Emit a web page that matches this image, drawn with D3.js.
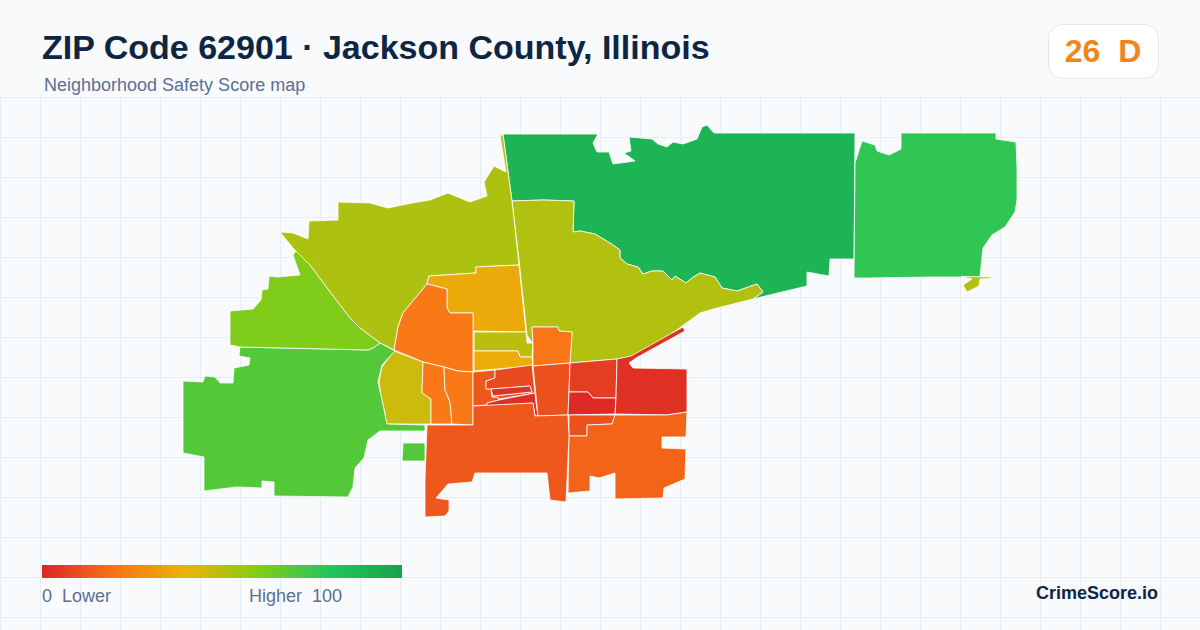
<!DOCTYPE html>
<html>
<head>
<meta charset="utf-8">
<script src="https://cdn.jsdelivr.net/npm/d3@7"></script>
<style>
  html, body { margin: 0; padding: 0; background: #f8fafc; }
  svg { display: block; }
  text { font-family: "Liberation Sans", Arial, sans-serif; white-space: pre; }
</style>
</head>
<body>
<svg id="chart" width="1200" height="630"></svg>
<script>
// score colour ramp
const rampStops = [0, 20, 40, 60, 80, 100];
const rampColors = ["#dc2626", "#f97316", "#eab308", "#84cc16", "#22c55e", "#16a34a"];

const titleText = "ZIP Code 62901 · Jackson County, Illinois";
const subtitleText = "Neighborhood Safety Score map";
const badgeText = "26  D";
const legendLow = "0  Lower";
const legendHigh = "Higher  100";
const brandText = "CrimeScore.io";

// census tracts, outlines in map units
const tractNames = ["ne", "e", "eBit", "olE", "olW", "amber", "orW", "olS", "amS", "orN", "tan", "st1", "st2",
  "l1", "l2", "red1", "red2", "mid", "nr", "rd", "er", "sm", "se", "so", "sw", "swBit", "lime"];
const tractScores = [90, 77, 51, 51, 52, 37, 22, 49, 38, 21, 46, 22, 22,
  13, 9, 3, 2, 11, 6, 1, 3, 11, 16, 13, 70, 70, 61];

const ne = [[503,134],[598,134],[593,143],[597,152],[609,152],[613,164],[635,161],[624,153],[631,151],[629,137],[652,139],[658,144],[667,147],[673,142],[683,144],[697,139],[702,127],[707,125],[714,133],[855,133],[854,259],[830,259],[829,276],[807,272],[807,286],[753,299],[763,292],[757,284],[737,291],[722,288],[715,277],[700,273],[692,278],[686,283],[675,276],[672,280],[663,271],[652,271],[643,274],[638,267],[627,264],[620,258],[620,250],[610,243],[595,234],[580,231],[573,232],[574,201],[543,200],[512,201]];
const e = [[862,141],[875,145],[877,151],[889,155],[901,149],[901,133],[996,133],[996,139],[1016,142],[1017,167],[1017,200],[1015,212],[1005,227],[992,235],[983,248],[980,277],[932,277],[867,278],[854,278],[855,163]];
const eBit = [[961,276.5],[991,277],[991,278.5],[980,279],[979,286],[967,292],[963,285],[972,279]];
const olE = [[512,201],[543,200],[574,201],[573,232],[580,231],[595,234],[610,243],[620,250],[620,258],[627,264],[638,267],[643,274],[652,271],[663,271],[672,280],[675,276],[686,283],[692,278],[700,273],[715,277],[722,288],[737,291],[757,284],[763,292],[753,299],[717,308],[700,313],[663,340],[637,355],[618,359],[570,363],[572,332],[559,331],[558,327],[532,327],[533,344],[527,335],[519,260]];
const olW = [[280,232],[293,233],[308,239],[309,221],[338,220],[338,202],[370,203],[388,208],[412,203],[430,200],[448,193],[470,202],[487,196],[484,182],[494,166],[506,172],[500,135],[503,135],[512,201],[519,265],[476,267],[476,273],[429,276],[427,284],[403,313],[398,327],[394,350],[380,343],[360,328],[350,318],[330,292],[310,265],[293,248]];
const amber = [[429,276],[476,273],[476,267],[519,265],[526,332],[473,331],[473,313],[450,313],[447,308],[447,289],[427,284]];
const orW = [[427,284],[447,289],[447,308],[450,313],[473,313],[473,372],[458,371],[444,367],[423,362],[394,350],[398,327],[403,313]];
const olS = [[474,332],[526,332],[527,343],[533,343],[532,357],[520,357],[518,351],[474,351]];
const amS = [[474,351],[518,351],[520,357],[532,357],[533,366],[474,371]];
const orN = [[532,327],[558,327],[559,331],[572,332],[570,363],[533,366],[533,344]];
const tan = [[394,351],[423,362],[422,393],[431,399],[431,424],[386,424],[385,413],[382,402],[379,382],[382,367]];
const st1 = [[423,362],[444,367],[445,390],[450,402],[452,424],[431,424],[431,399],[422,393]];
const st2 = [[444,367],[458,371],[473,372],[473,425],[452,424],[450,402],[445,390]];
const l1 = [[473,372],[495,370],[495,378],[486,381],[486,389],[491,389],[492,397],[498,397],[499,400],[487,403],[487,405],[473,406]];
const l2 = [[495,370],[532,365],[535,393],[499,399],[498,397],[492,397],[493,396],[532,392],[530,386],[491,389],[486,389],[486,381],[495,378]];
const red1 = [[491,389],[530,386],[532,392],[493,396]];
const red2 = [[499,400],[535,393],[536,403],[538,416],[535,416],[533,403],[487,406],[487,403]];
const mid = [[533,366],[570,363],[569,392],[568,415],[538,416]];
const nr = [[570,363],[617,359],[616,398],[593,398],[588,392],[569,392]];
const rd = [[569,392],[588,392],[593,398],[616,398],[615,414],[568,415]];
const er = [[617,359],[631,356],[683,327],[685,331],[636,358],[629,363],[633,368],[687,369],[687,412],[667,415],[615,414],[616,398]];
const sm = [[569,415],[615,415],[612,424],[587,425],[587,436],[569,436]];
const se = [[615,415],[667,415],[687,412],[686,437],[662,437],[662,448],[686,449],[685,479],[664,488],[663,498],[615,499],[615,473],[599,478],[590,476],[590,491],[568,493],[569,436],[587,436],[587,425],[612,424]];
const so = [[427,425],[473,425],[473,406],[533,403],[535,416],[568,415],[569,436],[566,502],[550,500],[547,473],[493,473],[475,473],[472,482],[448,484],[436,498],[449,500],[449,511],[445,516],[425,517],[425,480]];
const sw = [[240,347],[368,350],[373,348],[380,343],[395,351],[382,365],[378,382],[382,400],[387,424],[425,425],[425,431],[380,431],[368,440],[364,458],[355,468],[353,487],[348,497],[274,496],[274,482],[262,481],[262,488],[237,487],[204,491],[204,457],[183,453],[183,381],[203,382],[205,376],[215,377],[220,383],[233,383],[234,368],[249,365],[250,358],[239,356]];
const swBit = [[403,443],[425,443],[425,461],[402,461]];
const lime = [[230,311],[253,309],[261,300],[262,290],[268,289],[269,276],[277,277],[300,275],[293,255],[296,251],[310,265],[330,292],[350,318],[360,328],[380,343],[373,348],[368,350],[240,347],[230,345]];

const tractShapes = [ne, e, eBit, olE, olW, amber, orW, olS, amS, orN, tan, st1, st2,
  l1, l2, red1, red2, mid, nr, rd, er, sm, se, so, sw, swBit, lime];

const svg = d3.select("#chart");
const width = 1200, height = 630;

const color = d3.scaleLinear().domain(rampStops).range(rampColors);

// background grid
const gridX = d3.range(0, width + 1, 40);
const gridY = d3.range(97, height, 40);
const grid = svg.append("g").attr("stroke", "#e6eef3").attr("stroke-width", 1);
gridX.forEach(x => grid.append("line").attr("x1", x + 0.5).attr("x2", x + 0.5).attr("y1", 97).attr("y2", height));
gridY.forEach(y => grid.append("line").attr("x1", 0).attr("x2", width).attr("y1", y + 0.5).attr("y2", y + 0.5));

// map
const xMap = d3.scaleLinear().domain([180, 1020]).range([180, 1020]);
const yMap = d3.scaleLinear().domain([125, 517]).range([125, 517]);
const outline = d3.line().x(d => xMap(d[0])).y(d => yMap(d[1])).curve(d3.curveLinearClosed);

svg.append("g").selectAll("path")
  .data(tractNames.map((name, i) => ({ name, score: tractScores[i], shape: tractShapes[i] })))
  .join("path")
  .attr("d", d => outline(d.shape))
  .attr("fill", d => color(d.score))
  .attr("stroke", "#ffffff")
  .attr("stroke-width", 0.8)
  .attr("stroke-linejoin", "round");

// header
svg.append("text").attr("x", 42).attr("y", 59)
  .attr("font-size", 34).attr("font-weight", 700).attr("fill", "#0f2544").text(titleText);
svg.append("text").attr("x", 44).attr("y", 91)
  .attr("font-size", 18).attr("fill", "#5b7090").text(subtitleText);

// score badge
svg.append("rect").attr("x", 1048.5).attr("y", 24.5).attr("width", 110).attr("height", 54).attr("rx", 14)
  .attr("fill", "#ffffff").attr("stroke", "#e2e8f0");
svg.append("text").attr("x", 1103).attr("y", 62).attr("text-anchor", "middle")
  .attr("font-size", 32).attr("font-weight", 700).attr("fill", "#f0851a").text(badgeText);

// legend
const legendScale = d3.scaleLinear().domain([0, 100]).range([42, 402]);
const grad = svg.append("defs").append("linearGradient").attr("id", "ramp");
grad.selectAll("stop").data(rampStops).join("stop")
  .attr("offset", d => d + "%")
  .attr("stop-color", d => color(d));
svg.append("rect").attr("x", legendScale(0)).attr("y", 565)
  .attr("width", legendScale(100) - legendScale(0)).attr("height", 13).attr("fill", "url(#ramp)");
svg.append("text").attr("x", 42).attr("y", 602).attr("font-size", 18).attr("fill", "#5b7090").text(legendLow);
svg.append("text").attr("x", 249).attr("y", 602).attr("font-size", 18).attr("fill", "#5b7090").text(legendHigh);

svg.append("text").attr("x", 1158).attr("y", 599).attr("text-anchor", "end")
  .attr("font-size", 18).attr("font-weight", 700).attr("fill", "#0f2544").text(brandText);
</script>
</body>
</html>
